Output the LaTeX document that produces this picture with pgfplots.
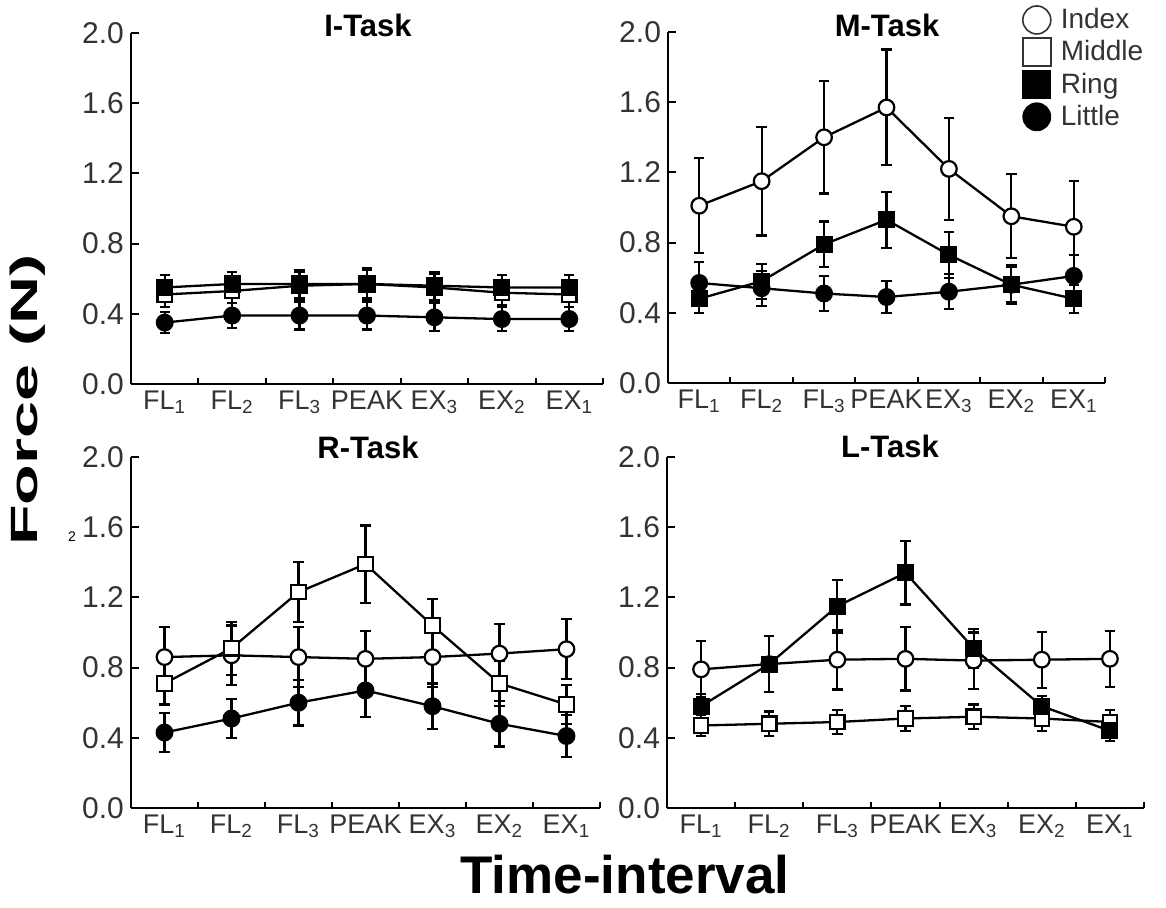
\documentclass[border=0pt]{standalone}
\usepackage{fontspec}
\setmainfont{Liberation Sans}
\usepackage{pgfplots}
\pgfplotsset{compat=1.18}
\usepackage{graphicx}

\pgfplotsset{
  panel/.style={
    scale only axis, height=175.5pt,
    xmin=0.5, xmax=7.5, ymin=0, ymax=2,
    axis lines*=left,
    axis line style={line width=1pt, black},
    tick align=inside,
    xtick={1,...,7},
    xticklabels={FL\textsubscript{1},FL\textsubscript{2},FL\textsubscript{3},PEAK,EX\textsubscript{3},EX\textsubscript{2},EX\textsubscript{1}},
    major x tick style={draw=none},
    minor xtick={1.5,2.5,3.5,4.5,5.5,6.5,7.5},
    minor x tick style={line width=1pt, black},
    minor tick length=3pt,
    ytick={0,0.4,0.8,1.2,1.6,2.0},
    major y tick style={line width=1pt, black},
    major tick length=4pt,
    y tick label style={font=\fontsize{15}{15}\selectfont, text=black!80,
      /pgf/number format/fixed, /pgf/number format/fixed zerofill, /pgf/number format/precision=1},
    /pgf/number format/assume math mode=true,
    x tick label style={font=\fontsize{13.5}{13.5}\selectfont, text=black!80},
    clip=false,
  },
  ser/.style={black, line width=1.15pt,
    error bars/y dir=both, error bars/y explicit,
    error bars/error bar style={line width=1.1pt, black},
    error bars/error mark options={rotate=90, mark size=2.6pt, line width=1.1pt, black}},
  idx/.style={ser, mark=*, mark size=3.9pt, mark options={fill=white, line width=1.1pt}},
  mid/.style={ser, mark=square*, mark size=3.6pt, mark options={fill=white, line width=1.1pt}},
  rng/.style={ser, mark=square*, mark size=3.7pt, mark options={fill=black}},
  lit/.style={ser, mark=*, mark size=3.9pt, mark options={fill=black}},
}

\begin{document}
\begin{tikzpicture}
\useasboundingbox (0,0) rectangle (583pt,453.5pt);

% I-Task
\begin{axis}[panel, width=236pt, at={(65.5pt,261.5pt)}, anchor=south west]
\addplot[mid] coordinates {(1,0.51) +- (0,0.07) (2,0.53) +- (0,0.07) (3,0.56) +- (0,0.08) (4,0.57) +- (0,0.08) (5,0.55) +- (0,0.08) (6,0.52) +- (0,0.07) (7,0.51) +- (0,0.07)};
\addplot[rng] coordinates {(1,0.55) +- (0,0.07) (2,0.57) +- (0,0.07) (3,0.57) +- (0,0.08) (4,0.57) +- (0,0.09) (5,0.56) +- (0,0.08) (6,0.55) +- (0,0.07) (7,0.55) +- (0,0.07)};
\addplot[lit] coordinates {(1,0.35) +- (0,0.06) (2,0.39) +- (0,0.07) (3,0.39) +- (0,0.08) (4,0.39) +- (0,0.08) (5,0.38) +- (0,0.08) (6,0.37) +- (0,0.07) (7,0.37) +- (0,0.07)};
\end{axis}
\node[font=\bfseries\fontsize{15.5}{15.5}\selectfont] at (184pt,441pt) {I-Task};

% M-Task
\begin{axis}[panel, width=218.5pt, at={(334pt,262pt)}, anchor=south west,
  legend style={at={(0.811,1.08)}, anchor=north west, draw=none, fill=none,
    font=\fontsize{14}{16}\selectfont, text=black!80, row sep=0.5pt, inner sep=0pt,
    nodes={inner xsep=5pt}},
  legend cell align=left]
\addplot[idx, forget plot] coordinates {(1,1.01) +- (0,0.27) (2,1.15) +- (0,0.31) (3,1.40) +- (0,0.32) (4,1.57) +- (0,0.33) (5,1.22) +- (0,0.29) (6,0.95) +- (0,0.24) (7,0.89) +- (0,0.26)};
\addplot[rng, forget plot] coordinates {(1,0.48) +- (0,0.08) (2,0.58) +- (0,0.10) (3,0.79) +- (0,0.13) (4,0.93) +- (0,0.16) (5,0.73) +- (0,0.13) (6,0.56) +- (0,0.10) (7,0.48) +- (0,0.08)};
\addplot[lit, forget plot] coordinates {(1,0.57) +- (0,0.12) (2,0.54) +- (0,0.10) (3,0.51) +- (0,0.10) (4,0.49) +- (0,0.09) (5,0.52) +- (0,0.10) (6,0.56) +- (0,0.11) (7,0.61) +- (0,0.12)};
\addlegendimage{only marks, mark=*, mark size=7pt, mark options={fill=white, draw=black!80, line width=0.8pt}}
\addlegendimage{only marks, mark=square*, mark size=7pt, mark options={fill=white, draw=black!80, line width=0.8pt}}
\addlegendimage{only marks, mark=square*, mark size=7pt, mark options={fill=black, draw=black}}
\addlegendimage{only marks, mark=*, mark size=7pt, mark options={fill=black, draw=black}}
\legend{Index,Middle,Ring,Little}
\end{axis}
\node[font=\bfseries\fontsize{15.5}{15.5}\selectfont] at (443.5pt,441pt) {M-Task};

% R-Task
\begin{axis}[panel, width=234.5pt, at={(65.5pt,49.5pt)}, anchor=south west]
\addplot[idx] coordinates {(1,0.86) +- (0,0.17) (2,0.87) +- (0,0.17) (3,0.86) +- (0,0.17) (4,0.85) +- (0,0.16) (5,0.86) +- (0,0.17) (6,0.88) +- (0,0.17) (7,0.905) +- (0,0.17)};
\addplot[mid] coordinates {(1,0.71) +- (0,0.12) (2,0.91) +- (0,0.15) (3,1.23) +- (0,0.17) (4,1.39) +- (0,0.22) (5,1.04) +- (0,0.15) (6,0.71) +- (0,0.13) (7,0.59) +- (0,0.11)};
\addplot[lit] coordinates {(1,0.43) +- (0,0.11) (2,0.51) +- (0,0.11) (3,0.60) +- (0,0.13) (4,0.67) +- (0,0.15) (5,0.58) +- (0,0.13) (6,0.48) +- (0,0.13) (7,0.41) +- (0,0.12)};
\end{axis}
\node[font=\bfseries\fontsize{15.5}{15.5}\selectfont] at (184pt,230pt) {R-Task};

% L-Task
\begin{axis}[panel, width=238.5pt, at={(333.5pt,49.5pt)}, anchor=south west]
\addplot[idx] coordinates {(1,0.79) +- (0,0.16) (2,0.82) +- (0,0.16) (3,0.845) +- (0,0.17) (4,0.85) +- (0,0.18) (5,0.84) +- (0,0.16) (6,0.845) +- (0,0.16) (7,0.85) +- (0,0.16)};
\addplot[mid] coordinates {(1,0.47) +- (0,0.06) (2,0.48) +- (0,0.07) (3,0.49) +- (0,0.07) (4,0.51) +- (0,0.07) (5,0.52) +- (0,0.07) (6,0.51) +- (0,0.07) (7,0.49) +- (0,0.07)};
\addplot[rng] coordinates {(1,0.58) +- (0,0.07) (2,0.82) +- (0,0.16) (3,1.15) +- (0,0.15) (4,1.34) +- (0,0.18) (5,0.91) +- (0,0.11) (6,0.58) +- (0,0.06) (7,0.44) +- (0,0.06)};
\end{axis}
\node[font=\bfseries\fontsize{15.5}{15.5}\selectfont] at (445pt,230.5pt) {L-Task};

\node[rotate=90] at (14pt,253.5pt) {\scalebox{1.75}[1]{\bfseries\fontsize{19}{19}\selectfont Force (N)}};
\node[font=\fontsize{7}{7}\selectfont] at (36pt,185pt) {2};
\node[font=\bfseries\fontsize{26.5}{26.5}\selectfont] at (312.5pt,16pt) {Time-interval};
\end{tikzpicture}
\end{document}
